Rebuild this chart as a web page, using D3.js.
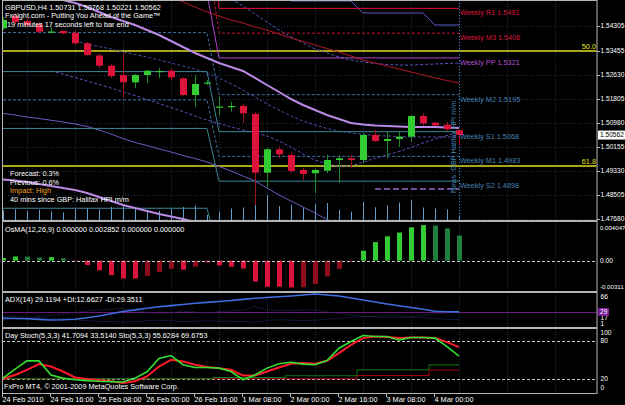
<!DOCTYPE html>
<html>
<head>
<meta charset="utf-8">
<script src="https://cdn.jsdelivr.net/npm/d3@7"></script>
<style>
  body { margin: 0; background: #000; }
  svg { display: block; }
  text { font-family: "Liberation Sans", Arial, sans-serif; font-size: 7.3px; fill: #fff; }
  text.axis { font-size: 6.6px; }
</style>
</head>
<body>
<svg width="625" height="405"></svg>
<script>
// GBPUSD H4, values
var opens  = [1.54226,1.54648,1.54477,1.54363,1.54099,1.54133,1.54075,1.53711,1.53293,1.52943,
              1.52623,1.52373,1.52623,1.52750,1.52771,1.52510,1.51937,1.52349,1.51525,1.51549,
              1.51560,1.51285,1.49271,1.50074,1.49878,1.49363,1.49250,1.49339,1.49706,1.49765,
              1.49706,1.50564,1.50358,1.50427,1.50506,1.51216,1.50986,1.50918,1.50731];
var highs  = [1.54614,1.54751,1.54580,1.54442,1.54271,1.54151,1.54144,1.53756,1.53344,1.53001,
              1.53378,1.52658,1.52795,1.52874,1.52853,1.52555,1.52623,1.52452,1.51879,1.51707,
              1.51628,1.51354,1.50118,1.50163,1.49957,1.49432,1.49398,1.49878,1.49878,1.49878,
              1.50623,1.50736,1.50678,1.50667,1.51251,1.51309,1.51010,1.51010,1.50768];
var lows   = [1.54168,1.54374,1.54271,1.54065,1.54054,1.54030,1.53653,1.53258,1.52864,1.52520,
              1.51834,1.52177,1.52349,1.52510,1.52452,1.51886,1.51536,1.52280,1.51251,1.51364,
              1.50976,1.48162,1.48790,1.49765,1.49250,1.49020,1.48564,1.49260,1.48907,1.49432,
              1.49593,1.50324,1.49765,1.50153,1.50334,1.50883,1.50873,1.50702,1.50221];
var closes = [1.54511,1.54442,1.54339,1.54109,1.54116,1.54054,1.53711,1.53310,1.52943,1.52589,
              1.52373,1.52623,1.52771,1.52761,1.52545,1.51937,1.52315,1.52366,1.51542,1.51560,
              1.51309,1.49271,1.50074,1.49902,1.49329,1.49226,1.49363,1.49706,1.49765,1.49706,
              1.50564,1.50358,1.50427,1.50506,1.51216,1.50966,1.50897,1.50760,1.50562];
var volumes = [3900,4300,3600,4100,3500,3000,4400,4800,4200,5200,
               5600,4700,4000,3700,4500,5200,5800,2100,3300,4600,
               5000,8400,9900,5600,6100,5200,6300,6800,4100,3300,
               7200,5100,5900,7000,7900,5000,4600,4300,1800];

var maUpper = [1.55884,1.55712,1.55575,1.55438,1.55301,1.55198,1.55095,1.54957,1.54786,1.54614,
               1.54477,1.54340,1.54168,1.53996,1.53790,1.53585,1.53379,1.53207,1.53035,1.52898,
               1.52761,1.52521,1.52280,1.52040,1.51800,1.51594,1.51422,1.51251,1.51113,1.50976,
               1.50925,1.50890,1.50873,1.50856,1.50839,1.50839,1.50839,1.50822,1.50804];
var maLower = [1.49037,1.49003,1.48951,1.48882,1.48814,1.48745,1.48676,1.48573,1.48436,1.48299,
               1.48162,1.48059,1.47956,1.47853,1.47767,1.47681,1.47578,1.47475,1.47350,1.47220,
               1.47100,1.46900,1.46680,1.46500,1.46350,1.46220,1.46120,1.46060,1.46030,1.46030,
               1.46060,1.46120,1.46200,1.46300,1.46420,1.46550,1.46680,1.46800,1.46920];
var maRed = [null,null,null,null,null,null,null,null,null,null,
             null,null,null,null,1.55301,1.55129,1.54957,1.54786,1.54649,1.54511,
             1.54408,1.54271,1.54168,1.54031,1.53893,1.53773,1.53653,1.53533,1.53413,1.53276,
             1.53138,1.53035,1.52932,1.52829,1.52726,1.52623,1.52521,1.52435,1.52349];

// slate-blue channel lines
var dayHigh = [null,null,null,null,null,null,null,null,null,null,
               null,null,null,null,null,null,null,null,1.5554,1.5554,
               1.5554,1.5554,1.5554,1.5554,1.55163,1.55163,1.55163,1.55163,1.55163,1.55163,
               1.54752,1.54752,1.54752,1.54752,1.54752,1.54752,1.54340,1.54340,1.54340];
var bandTop = [null,null,null,null,null,null,null,null,null,null,
               null,null,null,null,null,null,null,null,null,1.55232,
               1.54992,1.54717,1.54443,1.54168,1.53928,1.53722,1.53516,1.53379,1.53241,1.53138,
               1.53070,1.53018,1.52984,1.52967,1.52967,1.52984,1.53001,1.53018,1.53035];
var bandMid = [null,null,null,null,null,null,1.53790,1.53688,1.53602,1.53516,
               1.53413,1.53327,1.53241,1.53138,1.53035,1.52932,1.52829,1.52692,1.52521,1.52315,
               1.52109,1.51868,1.51628,1.51422,1.51216,1.51045,1.50907,1.50787,1.50701,1.50633,
               1.50581,1.50547,1.50530,1.50513,1.50496,1.50496,1.50496,1.50496,1.50496];
var bandLow = [null,null,null,null,1.52761,1.52658,1.52538,1.52418,1.52297,1.52177,
               1.52040,1.51920,1.51783,1.51645,1.51508,1.51371,1.51216,1.51079,1.50959,1.50839,
               1.50736,1.50633,1.50530,1.50358,1.50152,1.49912,1.49706,1.49569,1.49483,1.49500,
               1.49637,1.49758,1.49878,1.49998,1.50135,1.50290,1.50427,1.50547,1.50667];
var slowLine = [1.51306,1.51251,1.51182,1.51131,1.51069,1.51010,1.50942,1.50856,1.50736,1.50598,
                1.50444,1.50307,1.50204,1.50084,1.49981,1.49861,1.49758,1.49637,1.49483,1.49329,
                1.49157,1.48985,1.48745,1.48505,1.48299,1.48093,1.47887,1.47664,1.47475,1.47300,
                1.47180,1.47100,1.47050,1.47030,1.47030,1.47050,1.47080,1.47120,1.47160];
var envLow = [null,null,null,null,null,null,null,null,null,null,
              null,null,null,null,null,null,null,null,null,null,
              null,null,null,null,null,null,null,null,null,null,
              null,1.48711,1.48711,1.48711,1.48711,1.48711,1.48711,1.48711,1.48711];

var pivotNames = ["R1","M3","PP","M2","S1","M1","S2","S3"];
var pivotNow   = [1.5491,1.5406,1.5321,1.5195,1.5068,1.4983,1.4898,1.4645];
var pivotPrev  = [1.5835,1.5688,1.5541,1.5408,1.5274,1.5177,1.5079,1.4805];
var pivotWeekStart = 18;

var fiboNames  = ["50.0","61.8"];
var fiboPrices = [1.5346,1.4950];

var osma = [0.00030,0.00047,0.00046,0.00035,0.00040,0.00027,-0.00005,-0.00050,-0.00110,-0.00164,
            -0.00203,-0.00203,-0.00175,-0.00129,-0.00094,-0.00102,-0.00070,-0.00023,-0.00055,-0.00070,
            -0.00090,-0.00238,-0.00297,-0.00297,-0.00305,-0.00302,-0.00266,-0.00180,-0.00094,-0.00016,
            0.00112,0.00210,0.00276,0.00319,0.00378,0.00404,0.00398,0.00366,0.00285];
var osmaLabels = ["0.004047","0.00","-0.00311"];
var osmaLabelValues = [0.004047,0,-0.00311];

var adx     = [15.9,15.4,14.9,13.6,12.4,12.8,13.8,17.0,20.6,25.2,
               29.9,33.2,36.5,39.8,42.1,44.4,46.8,48.7,50.5,52.7,
               54.9,57.1,58.7,60.3,61.9,64.0,66.0,64.0,61.9,57.8,
               53.6,49.5,45.4,41.8,38.2,34.4,30.5,29.5,29.12];
var plusDi  = [20,19,18,17,16,15,13,11,10,9,
               8,9,11,12,11,9,10,11,10,10,
               9,8,11,13,12,11,12,14,16,18,
               20,19,18,18,19,17,15,14,12.66];
var minusDi = [14,15,17,20,22,24,28,31,33,34,
               36,32,28,26,27,31,29,27,30,31,
               33,40,34,31,32,33,33,29,26,23,
               20,19,22,21,19,22,25,27,29.35];
var adxLabels = [66, 17, 1];

var stochMain   = [21,35,48,48,26,21,18.4,17,16,15.5,
                   15,21,31,52,56.5,42,37.7,37.7,36.7,31.4,
                   18.4,26,36.7,43.5,46,43,42,48.7,68,78.5,
                   88,86.3,86.3,81,84.7,84.7,83.8,70.6,55.63];
var stochSignal = [20,26,34,43,39.3,31.4,22,19.5,17.5,16,
                   13.3,16,23.6,39.3,49.8,47,42,38.3,36.7,34,
                   25,25,31.4,37.7,43.5,44.6,43.5,48.2,60.3,73.3,
                   83.8,86.3,85.5,84,84.7,84.7,84,77.5,69.68];
var dayStochMain   = [20,20,20,20,20,20,20,20,20,20,
                      20,20,20,20,20,20,20,20,22,22,
                      22,22,22,22,24.7,24.7,24.7,24.7,24.7,24.7,
                      34,34,34,34,34,34,41.71,41.71,41.71];
var dayStochSignal = [20,20,20,20,20,20,20,20,20,20,
                      20,20,20,20,20,20,20,20,20,20,
                      20,20,20,20,20,20,20,20,20,20,
                      25,25,25,25,25,25,33.51,33.51,33.51];
var stochLabels = [100, 80, 20, 0];

var priceTicks = [1.54305,1.53455,1.52630,1.51805,1.50980,1.50155,1.49330,1.48505,1.47680];
var timeLabels = ["24 Feb 2010","24 Feb 16:00","25 Feb 08:00","26 Feb 00:00","26 Feb 16:00",
                  "1 Mar 08:00","2 Mar 00:00","2 Mar 16:00","3 Mar 08:00","4 Mar 00:00"];
var timeLabelBars = [0,4,8,12,16,20,24,28,32,36];
var newsBar = 38;

function main(){
    var svg = d3.select("svg");
    var bars = d3.range(closes.length);

    var x = d3.scaleLinear().domain([0, 49.5]).range([3, 597]);
    var yMain  = d3.scaleLinear().domain([1.47647, 1.55129]).range([220, 2]);
    var yVol   = d3.scaleLinear().domain([0, 10000]).range([220, 195]);
    var yOsma  = d3.scaleLinear().domain([-0.00311, 0.004047]).range([288, 225]);
    var yAdx   = d3.scaleLinear().domain([0, 66]).range([326, 294]);
    var yStoch = d3.scaleLinear().domain([0, 100]).range([391.5, 327.8]);

    var panels = [
        {id: "main",  top: 0.5,   bottom: 220.5},
        {id: "osma",  top: 221.5, bottom: 291.5},
        {id: "adx",   top: 292.5, bottom: 327.5},
        {id: "stoch", top: 328.5, bottom: 393.5}
    ];

    svg.append("rect").attr("width", 625).attr("height", 405).attr("fill", "#000");

    var defs = svg.append("defs");
    panels.forEach(function(p){
        defs.append("clipPath").attr("id", "clip-" + p.id).append("rect")
            .attr("x", 2.5).attr("y", p.top + 0.5)
            .attr("width", 594).attr("height", p.bottom - p.top - 1);
    });

    var layer = {};
    panels.forEach(function(p){
        layer[p.id] = svg.append("g").attr("clip-path", "url(#clip-" + p.id + ")");
    });

    // grid
    var gridBars = d3.range(2, 50, 4);
    panels.forEach(function(p){
        layer[p.id].selectAll(".vgrid").data(gridBars).enter().append("line")
            .attr("x1", function(d){ return Math.round(x(d)) + 0.5; })
            .attr("x2", function(d){ return Math.round(x(d)) + 0.5; })
            .attr("y1", p.top).attr("y2", p.bottom)
            .attr("stroke", "#25304c").attr("stroke-dasharray", "1,2");
    });
    layer.main.selectAll(".hgrid").data(priceTicks).enter().append("line")
        .attr("x1", 2).attr("x2", 597)
        .attr("y1", function(d){ return Math.round(yMain(d)) + 0.5; })
        .attr("y2", function(d){ return Math.round(yMain(d)) + 0.5; })
        .attr("stroke", "#25304c").attr("stroke-dasharray", "1,2");

    // ---------- main window ----------
    var g = layer.main;

    // volumes at the bottom
    g.selectAll(".vol").data(bars).enter().append("line")
        .attr("x1", function(i){ return x(i) + 0.5; })
        .attr("x2", function(i){ return x(i) + 0.5; })
        .attr("y1", yVol(0)).attr("y2", function(i){ return yVol(volumes[i]); })
        .attr("stroke", "#6a9cc6");

    // fibo levels
    g.selectAll(".fibo").data(fiboPrices).enter().append("line")
        .attr("x1", 2).attr("x2", 597)
        .attr("y1", function(d){ return Math.round(yMain(d)); })
        .attr("y2", function(d){ return Math.round(yMain(d)); })
        .attr("stroke", "#a9a51c").attr("stroke-width", 2);

    var priceLine = d3.line()
        .defined(function(d){ return d != null; })
        .x(function(d, i){ return x(i); })
        .y(function(d){ return yMain(d); });

    // slate channel lines
    [
        {d: dayHigh,  c: "#5858c8", w: 1,   dash: null},
        {d: bandTop,  c: "#5a52b8", w: 1,   dash: "3,2"},
        {d: bandMid,  c: "#4c4ca8", w: 1,   dash: "3,2"},
        {d: bandLow,  c: "#5a52b8", w: 1,   dash: "3,2"},
        {d: slowLine, c: "#6a5ac0", w: 1,   dash: null},
        {d: envLow,   c: "#9a6ac8", w: 1.6, dash: "6,3"}
    ].forEach(function(s){
        g.append("path").datum(s.d).attr("d", priceLine)
            .attr("fill", "none").attr("stroke", s.c)
            .attr("stroke-width", s.w).attr("stroke-dasharray", s.dash);
    });

    // weekly pivots
    var pivStyle = {
        R1: {c: "#dc143c", d: null},  M3: {c: "#c8102e", d: "3,2"},
        PP: {c: "#b444d0", d: null},  M2: {c: "#3f6f9f", d: "3,2"},
        S1: {c: "#3f8595", d: null},  M1: {c: "#3f6f9f", d: "3,2"},
        S2: {c: "#3f8595", d: null},  S3: {c: "#3f8595", d: null}
    };
    pivotNames.forEach(function(name, k){
        var series = bars.map(function(i){ return i < pivotWeekStart ? pivotPrev[k] : pivotNow[k]; });
        g.append("path").datum(series)
            .attr("d", priceLine)
            .attr("fill", "none")
            .attr("stroke", pivStyle[name].c)
            .attr("stroke-dasharray", pivStyle[name].d);
    });

    // moving averages
    g.append("path").datum(maRed).attr("d", priceLine)
        .attr("fill", "none").attr("stroke", "#b01828").attr("stroke-width", 1);
    g.append("path").datum(maUpper).attr("d", priceLine)
        .attr("fill", "none").attr("stroke", "#b98ae6").attr("stroke-width", 2);
    g.append("path").datum(maLower).attr("d", priceLine)
        .attr("fill", "none").attr("stroke", "#b98ae6").attr("stroke-width", 2);

    // news line
    g.append("line")
        .attr("x1", x(newsBar) + 0.5).attr("x2", x(newsBar) + 0.5)
        .attr("y1", 0).attr("y2", 221)
        .attr("stroke", "#4682b4").attr("stroke-dasharray", "1,2");

    // candles
    g.selectAll(".wick").data(bars).enter().append("line")
        .attr("x1", function(i){ return x(i) + 0.5; })
        .attr("x2", function(i){ return x(i) + 0.5; })
        .attr("y1", function(i){ return yMain(highs[i]); })
        .attr("y2", function(i){ return yMain(lows[i]); })
        .attr("stroke", function(i){ return closes[i] >= opens[i] ? "#1f8a2a" : "#a0101e"; });
    g.selectAll(".body").data(bars).enter().append("rect")
        .attr("x", function(i){ return x(i) - 3; })
        .attr("width", 7)
        .attr("y", function(i){ return yMain(Math.max(opens[i], closes[i])); })
        .attr("height", function(i){
            return Math.max(1.2, Math.abs(yMain(opens[i]) - yMain(closes[i])));
        })
        .attr("fill", function(i){ return closes[i] >= opens[i] ? "#33cc33" : "#dc143c"; });

    // labels inside main window
    svg.selectAll(".pivlab").data(pivotNames.slice(0, 7)).enter().append("text")
        .attr("x", x(newsBar) + 1)
        .attr("y", function(d, k){ return yMain(pivotNow[k]) + 7; })
        .style("fill", function(d){
            return d === "R1" || d === "M3" ? "#dc143c" : (d === "PP" ? "#b050d0" : "#4682b4");
        })
        .text(function(d, k){ return "Weekly " + d + " " + d3.format(".4f")(pivotNow[k]); });

    svg.selectAll(".fibolab").data(fiboNames).enter().append("text")
        .attr("x", 596).attr("text-anchor", "end")
        .attr("y", function(d, k){ return Math.round(yMain(fiboPrices[k])) - 2.5; })
        .style("fill", "#e6e21a")
        .text(function(d){ return d; });

    svg.append("text")
        .attr("transform", "translate(456,193) rotate(-90)")
        .style("fill", "#4682b4")
        .text("News: GBP Halifax HPI m/m");

    svg.append("text").attr("x", 5).attr("y", 10).text("GBPUSD,H4  1.50731 1.50768 1.50221 1.50562");
    svg.append("text").attr("x", 5).attr("y", 17.5).text("Fxnight.com - Putting You Ahead of the Game\u2122");
    svg.append("text").attr("x", 7).attr("y", 26.5).text("19 minutes 17 seconds left to bar end");

    svg.append("text").attr("x", 10).attr("y", 176).text("Forecast: 0.3%");
    svg.append("text").attr("x", 10).attr("y", 184.5).text("Previous: 0.6%");
    svg.append("text").attr("x", 10).attr("y", 193).style("fill", "#f0a020").text("Impact: High");
    svg.append("text").attr("x", 10).attr("y", 201.5).text("40 mins since GBP: Halifax HPI m/m");

    // ---------- OsMA ----------
    var go = layer.osma;
    go.selectAll(".osma").data(bars).enter().append("rect")
        .attr("x", function(i){ return x(i) - 2; })
        .attr("width", 5)
        .attr("y", function(i){ return Math.min(yOsma(0), yOsma(osma[i])); })
        .attr("height", function(i){ return Math.abs(yOsma(osma[i]) - yOsma(0)); })
        .attr("fill", function(i){
            var prev = i > 0 ? osma[i - 1] : osma[i];
            if (osma[i] >= 0) return osma[i] >= prev ? "#33cc33" : "#1f7f3c";
            return osma[i] <= prev ? "#dc143c" : "#8e0c1c";
        });
    go.append("line").attr("x1", 2).attr("x2", 597)
        .attr("y1", Math.round(yOsma(0)) + 0.5).attr("y2", Math.round(yOsma(0)) + 0.5)
        .attr("stroke", "#c8c8c8").attr("stroke-dasharray", "3,2");
    svg.append("text").attr("x", 5).attr("y", 231.5)
        .text("OsMA(12,26,9) 0.000000 0.002852 0.000000 0.000000");

    // ---------- ADX ----------
    var ga = layer.adx;
    var adxLine = d3.line().x(function(d, i){ return x(i); }).y(function(d){ return yAdx(d); });
    ga.append("line").attr("x1", 2).attr("x2", 597)
        .attr("y1", Math.round(yAdx(29.12)) + 0.5).attr("y2", Math.round(yAdx(29.12)) + 0.5)
        .attr("stroke", "#6a1a7a");
    ga.append("path").datum(plusDi).attr("d", adxLine)
        .attr("fill", "none").attr("stroke", "#1c2c6c").attr("stroke-dasharray", "1,1");
    ga.append("path").datum(minusDi).attr("d", adxLine)
        .attr("fill", "none").attr("stroke", "#28285a").attr("stroke-dasharray", "1,1");
    ga.append("path").datum(adx).attr("d", adxLine)
        .attr("fill", "none").attr("stroke", "#3f6de0").attr("stroke-width", 1.6);
    svg.append("text").attr("x", 5).attr("y", 302)
        .text("ADX(14) 29.1194 +DI:12.6627 -DI:29.3511");

    // ---------- Stochastics ----------
    var gs = layer.stoch;
    var stLine = d3.line().x(function(d, i){ return x(i); }).y(function(d){ return yStoch(d); });
    var stStep = d3.line().curve(d3.curveStep)
        .x(function(d, i){ return x(i); }).y(function(d){ return yStoch(d); });
    [80, 20].forEach(function(lv){
        gs.append("line").attr("x1", 2).attr("x2", 597)
            .attr("y1", Math.round(yStoch(lv)) + 0.5).attr("y2", Math.round(yStoch(lv)) + 0.5)
            .attr("stroke", "#c8c8c8").attr("stroke-dasharray", "3,2");
    });
    gs.append("path").datum(dayStochSignal).attr("d", stStep)
        .attr("fill", "none").attr("stroke", "#b00018");
    gs.append("path").datum(dayStochMain).attr("d", stStep)
        .attr("fill", "none").attr("stroke", "#0e7a14");
    gs.append("path").datum(stochSignal).attr("d", stLine)
        .attr("fill", "none").attr("stroke", "#ff1a2a").attr("stroke-width", 2);
    gs.append("path").datum(stochMain).attr("d", stLine)
        .attr("fill", "none").attr("stroke", "#33e033").attr("stroke-width", 1.6);
    svg.append("text").attr("x", 5).attr("y", 337.5)
        .text("Day Stoch(5,3,3) 41.7094 33.5140   Sto(5,3,3) 55.6284 69.6753");
    svg.append("text").attr("x", 4).attr("y", 388.5)
        .text("FxPro MT4, \u00a9 2001-2009 MetaQuotes Software Corp.");

    // ---------- frames ----------
    panels.forEach(function(p){
        svg.append("rect").attr("x", 2.5).attr("y", p.top)
            .attr("width", 594.5).attr("height", p.bottom - p.top)
            .attr("fill", "none").attr("stroke", "#b4b4b4");
    });

    // ---------- right scales ----------
    svg.selectAll(".ptick").data(priceTicks).enter().append("line")
        .attr("x1", 597).attr("x2", 600)
        .attr("y1", function(d){ return Math.round(yMain(d)) + 0.5; })
        .attr("y2", function(d){ return Math.round(yMain(d)) + 0.5; })
        .attr("stroke", "#b4b4b4");
    svg.selectAll(".plab").data(priceTicks).enter().append("text")
        .attr("class", "axis")
        .attr("x", 600.5).attr("y", function(d){ return yMain(d) + 2.4; })
        .text(function(d){ return d3.format(".5f")(d); });

    var lastY = yMain(closes[closes.length - 1]);
    svg.append("rect").attr("x", 598).attr("y", lastY - 4.5).attr("width", 27).attr("height", 9)
        .attr("fill", "#fff");
    svg.append("text").attr("class", "axis").attr("x", 600).attr("y", lastY + 2.4).style("fill", "#000")
        .text(d3.format(".5f")(closes[closes.length - 1]));

    svg.selectAll(".olab").data(osmaLabels).enter().append("text")
        .attr("class", "axis")
        .attr("x", 600)
        .attr("y", function(d, k){ return Math.min(Math.max(yOsma(osmaLabelValues[k]) + 2.4, 230), 289); })
        .style("font-size", function(d){ return d.length > 5 ? "6.1px" : null; })
        .text(function(d){ return d; });

    svg.selectAll(".alab").data(adxLabels).enter().append("text")
        .attr("class", "axis")
        .attr("x", 600.5)
        .attr("y", function(d){ return Math.min(Math.max(yAdx(d) + 2.4, 298.5), 326); })
        .text(function(d){ return d; });
    svg.append("rect").attr("x", 598).attr("y", yAdx(29.12) - 4).attr("width", 11).attr("height", 8)
        .attr("fill", "#7a1a9a");
    svg.append("text").attr("class", "axis").attr("x", 600).attr("y", yAdx(29.12) + 2.4).text("29");

    svg.selectAll(".slab").data(stochLabels).enter().append("text")
        .attr("class", "axis")
        .attr("x", 600.5)
        .attr("y", function(d){ return Math.min(Math.max(yStoch(d) + 2.4, 334.5), 389.5); })
        .text(function(d){ return d; });

    // ---------- time axis ----------
    svg.selectAll(".ttick").data(timeLabelBars).enter().append("line")
        .attr("x1", function(b){ return Math.round(x(b)) - 0.5; })
        .attr("x2", function(b){ return Math.round(x(b)) - 0.5; })
        .attr("y1", 393.5).attr("y2", 397)
        .attr("stroke", "#b4b4b4");
    svg.selectAll(".tlab").data(timeLabels).enter().append("text")
        .attr("x", function(d, k){ return x(timeLabelBars[k]) - 0.5; })
        .attr("y", 401.5)
        .text(function(d){ return d; });
}
main();
</script>
</body>
</html>
